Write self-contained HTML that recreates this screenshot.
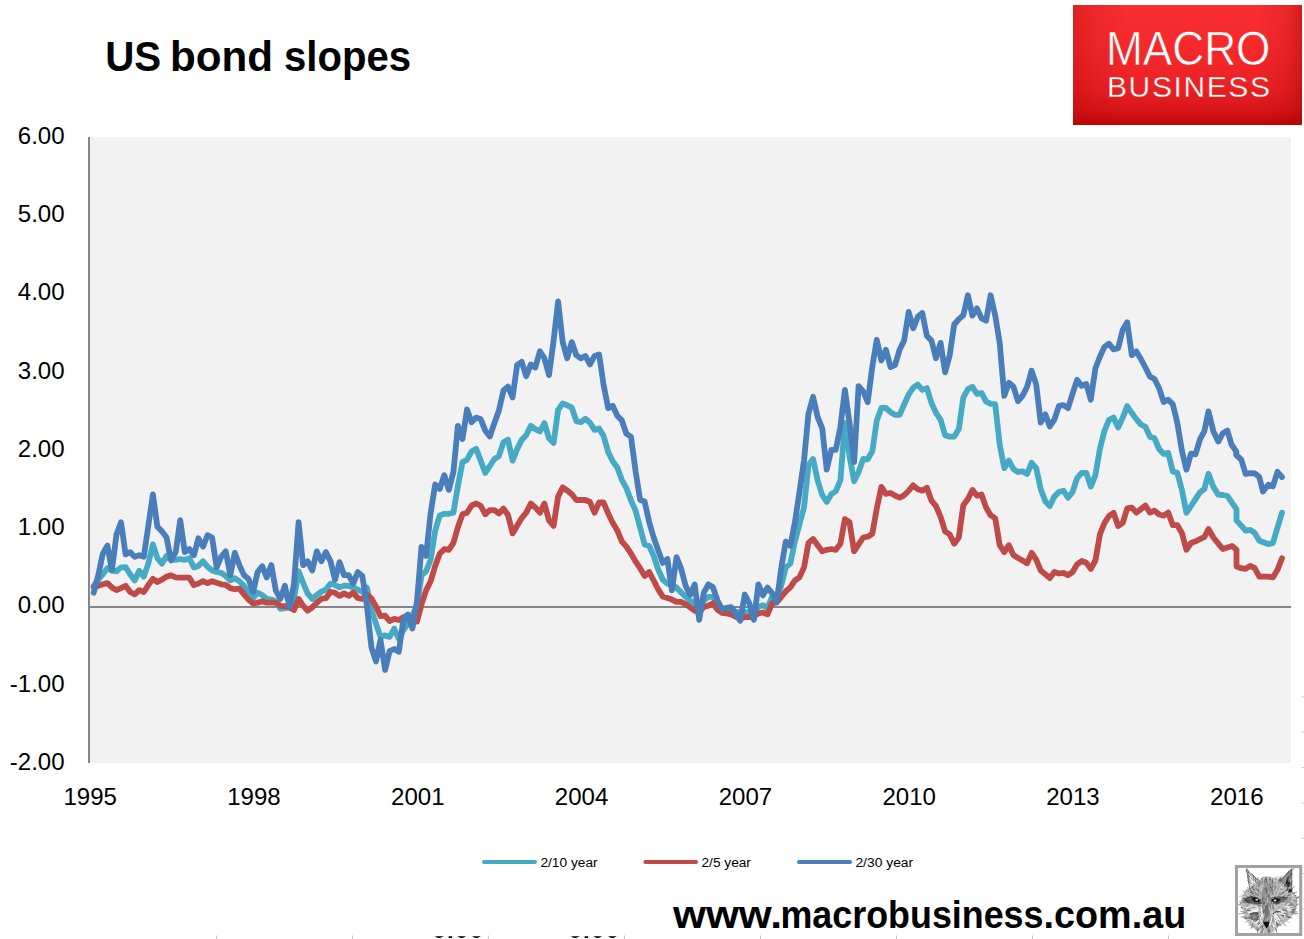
<!DOCTYPE html>
<html lang="en">
<head>
<meta charset="utf-8">
<title>US bond slopes</title>
<style>
html,body{margin:0;padding:0;background:#fff;}
body{width:1304px;height:939px;overflow:hidden;position:relative;font-family:"Liberation Sans",sans-serif;}
svg{position:absolute;left:0;top:0;display:block;}
text{font-family:"Liberation Sans",sans-serif;}
.ax{font-size:24.05px;fill:#000;}
.lg{font-size:12px;fill:#000;}
</style>
</head>
<body>
<svg width="1304" height="939" viewBox="0 0 1304 939">
<defs>
<linearGradient id="lgv" x1="0" y1="0" x2="0" y2="1">
<stop offset="0" stop-color="#f92e31"/><stop offset="0.35" stop-color="#f5292c"/><stop offset="0.7" stop-color="#e92024"/><stop offset="0.88" stop-color="#d81518"/><stop offset="1" stop-color="#bd0606"/>
</linearGradient>
<linearGradient id="lgh" x1="0" y1="0" x2="1" y2="0">
<stop offset="0" stop-color="#a00000" stop-opacity="0.28"/><stop offset="0.1" stop-color="#a00000" stop-opacity="0.12"/><stop offset="0.25" stop-color="#a00000" stop-opacity="0"/><stop offset="0.8" stop-color="#a00000" stop-opacity="0"/><stop offset="0.93" stop-color="#a00000" stop-opacity="0.15"/><stop offset="1" stop-color="#a00000" stop-opacity="0.4"/>
</linearGradient>
<clipPath id="botclip"><rect x="0" y="936.2" width="1304" height="2.8"/></clipPath>
</defs>

<rect x="90" y="137" width="1201" height="626" fill="#f2f2f2"/>
<line x1="89" y1="607.0" x2="1291" y2="607.0" stroke="#868686" stroke-width="2"/>
<line x1="89" y1="137" x2="89" y2="763" stroke="#868686" stroke-width="2"/>
<polyline fill="none" stroke="#46aac5" stroke-width="5.8" stroke-linejoin="round" stroke-linecap="round" points="93.7,585.8 98.3,579.7 102.8,574.3 107.4,568.2 111.9,570.5 116.5,571.3 121.0,567.4 125.6,567.1 130.1,574.3 134.7,580.5 139.2,570.8 143.8,576.6 148.3,563.6 152.9,544.4 157.4,558.2 162.0,563.6 166.5,555.9 171.1,559.0 175.7,559.8 180.2,559.0 184.8,559.8 189.3,558.2 193.9,567.4 198.4,565.9 203.0,561.3 207.5,566.7 212.1,570.5 216.6,572.0 221.2,572.8 225.7,575.9 230.3,580.5 234.8,578.2 239.4,581.2 243.9,585.8 248.5,592.7 253.1,598.1 257.6,592.7 262.2,595.0 266.7,598.9 271.3,599.6 275.8,601.2 280.4,608.8 284.9,608.1 289.5,607.4 294.0,598.2 298.6,571.3 303.1,582.8 307.7,593.6 312.2,598.9 316.8,595.1 321.4,591.7 325.9,589.7 330.5,583.6 335.0,585.1 339.6,587.4 344.1,585.6 348.7,585.9 353.2,587.4 357.8,589.7 362.3,592.0 366.9,587.7 371.4,609.8 376.0,623.8 380.5,636.7 385.1,635.4 389.6,636.9 394.2,628.6 398.8,638.8 403.3,630.2 407.9,623.8 412.4,615.2 417.0,605.5 421.5,575.2 426.1,571.3 430.6,559.8 435.2,530.7 439.7,515.5 444.3,513.8 448.8,513.8 453.4,512.7 457.9,485.9 462.5,462.1 467.0,459.8 471.6,451.4 476.2,448.8 480.7,460.6 485.3,472.9 489.8,466.0 494.4,459.0 498.9,456.0 503.5,442.2 508.0,439.6 512.6,460.6 517.1,449.1 521.7,439.9 526.2,435.3 530.8,425.8 535.3,429.1 539.9,431.4 544.4,423.0 549.0,438.3 553.6,442.9 558.1,410.0 562.7,403.4 567.2,405.4 571.8,407.7 576.3,421.2 580.9,422.2 585.4,418.7 590.0,422.7 594.5,429.9 599.1,428.4 603.6,436.0 608.2,452.1 612.7,461.3 617.3,467.5 621.8,479.8 626.4,488.2 631.0,500.5 635.5,510.4 640.1,527.6 644.6,544.4 649.2,546.0 653.7,556.0 658.3,569.8 662.8,579.7 667.4,583.6 671.9,584.8 676.5,587.6 681.0,592.2 685.6,596.8 690.1,600.5 694.7,603.3 699.2,606.9 703.8,600.5 708.4,596.8 712.9,596.8 717.5,604.2 722.0,609.7 726.6,610.6 731.1,610.6 735.7,611.5 740.2,612.5 744.8,612.5 749.3,612.0 753.9,611.5 758.4,606.9 763.0,605.1 767.5,607.9 772.1,596.8 776.7,596.8 781.2,585.8 785.8,567.4 790.3,563.6 794.9,541.3 799.4,524.5 804.0,507.6 808.5,465.1 813.1,459.0 817.6,480.4 822.2,495.0 826.7,501.9 831.3,494.2 835.8,491.2 840.4,480.4 844.9,422.9 849.5,455.9 854.1,481.2 858.6,472.0 863.2,459.0 867.7,459.3 872.3,451.3 876.8,420.6 881.4,408.0 885.9,408.0 890.5,412.2 895.0,414.8 899.6,414.8 904.1,404.5 908.7,394.5 913.2,387.6 917.8,384.6 922.3,389.9 926.9,388.1 931.5,403.0 936.0,412.9 940.6,419.8 945.1,435.2 949.7,436.7 954.2,436.7 958.8,429.1 963.3,397.6 967.9,389.2 972.4,386.9 977.0,393.8 981.5,393.0 986.1,401.5 990.6,403.8 995.2,404.2 999.7,444.4 1004.3,468.2 1008.9,460.5 1013.4,469.0 1018.0,472.0 1022.5,471.3 1027.1,473.9 1031.6,462.8 1036.2,468.2 1040.7,488.9 1045.3,501.2 1049.8,506.1 1054.4,496.6 1058.9,492.0 1063.5,490.7 1068.0,497.8 1072.6,492.0 1077.1,478.2 1081.7,472.8 1086.3,472.8 1090.8,486.6 1095.4,475.1 1099.9,449.0 1104.5,430.6 1109.0,419.9 1113.6,417.6 1118.1,427.5 1122.7,417.6 1127.2,406.1 1131.8,413.0 1136.3,419.1 1140.9,424.5 1145.4,426.8 1150.0,436.7 1154.5,438.3 1159.1,449.0 1163.7,453.9 1168.2,452.9 1172.8,471.5 1177.3,472.8 1181.9,489.9 1186.4,512.9 1191.0,506.0 1195.5,499.1 1200.1,492.2 1204.3,489.2 1208.5,473.8 1213.4,486.9 1218.3,494.6 1222.8,495.0 1227.4,496.0 1231.9,502.6 1236.5,509.2 1236.5,520.3 1241.0,525.4 1245.6,530.6 1250.2,529.9 1254.7,532.9 1259.3,540.6 1263.8,542.5 1268.3,544.1 1272.9,542.9 1277.5,527.6 1282.0,512.6"/>
<polyline fill="none" stroke="#be4b48" stroke-width="5.8" stroke-linejoin="round" stroke-linecap="round" points="93.7,587.4 98.3,585.8 102.8,584.3 107.4,583.1 111.9,587.4 116.5,590.1 121.0,588.1 125.6,585.8 130.1,592.0 134.7,594.3 139.2,590.1 143.8,592.0 148.3,585.1 152.9,578.9 157.4,582.0 162.0,579.7 166.5,576.6 171.1,575.4 175.7,577.4 180.2,577.7 184.8,577.7 189.3,577.7 193.9,585.1 198.4,583.5 203.0,581.2 207.5,583.1 212.1,581.2 216.6,582.8 221.2,584.3 225.7,584.8 230.3,588.1 234.8,589.2 239.4,588.6 243.9,594.3 248.5,599.6 253.1,603.5 257.6,602.7 262.2,601.2 266.7,602.7 271.3,602.7 275.8,602.7 280.4,605.8 284.9,606.1 289.5,607.4 294.0,610.1 298.6,598.9 303.1,605.8 307.7,610.7 312.2,607.4 316.8,602.8 321.4,598.9 325.9,598.2 330.5,591.7 335.0,592.8 339.6,595.9 344.1,593.4 348.7,595.8 353.2,592.6 357.8,598.0 362.3,599.0 366.9,594.7 371.4,598.5 376.0,606.6 380.5,616.2 385.1,615.7 389.6,621.1 394.2,618.9 398.8,620.0 403.3,617.3 407.9,615.2 412.4,620.5 417.0,621.6 421.5,604.4 426.1,590.4 430.6,581.3 435.2,566.0 439.7,553.7 444.3,549.1 448.8,549.8 453.4,542.9 457.9,527.3 462.5,514.3 467.0,512.7 471.6,505.5 476.2,503.5 480.7,505.8 485.3,514.3 489.8,510.1 494.4,510.1 498.9,513.5 503.5,508.6 508.0,515.0 512.6,533.4 517.1,525.8 521.7,518.1 526.2,512.7 530.8,503.5 535.3,507.4 539.9,512.7 544.4,503.5 549.0,520.4 553.6,525.8 558.1,496.6 562.7,487.4 567.2,490.5 571.8,494.3 576.3,500.0 580.9,500.0 585.4,500.0 590.0,502.0 594.5,512.7 599.1,502.5 603.6,502.5 608.2,513.5 612.7,522.7 617.3,530.4 621.8,541.4 626.4,546.7 631.0,553.7 635.5,561.3 640.1,568.2 644.6,575.9 649.2,572.1 653.7,580.5 658.3,589.7 662.8,596.6 667.4,598.1 671.9,599.6 676.5,601.9 681.0,601.9 685.6,604.2 690.1,607.4 694.7,610.6 699.2,612.5 703.8,606.9 708.4,605.6 712.9,603.3 717.5,609.7 722.0,612.9 726.6,613.4 731.1,614.3 735.7,616.6 740.2,618.9 744.8,617.1 749.3,617.1 753.9,616.1 758.4,613.4 763.0,612.5 767.5,614.3 772.1,603.3 776.7,602.3 781.2,596.8 785.8,591.3 790.3,587.4 794.9,580.5 799.4,577.4 804.0,567.4 808.5,542.9 813.1,539.0 817.6,545.2 822.2,551.3 826.7,549.8 831.3,549.0 835.8,549.8 840.4,543.7 844.9,519.1 849.5,522.2 854.1,551.3 858.6,544.4 863.2,537.5 867.7,536.7 872.3,533.7 876.8,508.4 881.4,486.9 885.9,493.8 890.5,493.0 895.0,495.6 899.6,497.6 904.1,495.3 908.7,490.7 913.2,485.4 917.8,489.2 922.3,490.7 926.9,487.7 931.5,500.7 936.0,506.1 940.6,516.8 945.1,531.4 949.7,534.4 954.2,543.7 958.8,537.5 963.3,505.3 967.9,499.1 972.4,489.9 977.0,495.8 981.5,494.5 986.1,507.6 990.6,515.2 995.2,518.3 999.7,545.2 1004.3,552.1 1008.9,545.2 1013.4,555.1 1018.0,557.9 1022.5,560.5 1027.1,563.3 1031.6,552.8 1036.2,559.7 1040.7,570.5 1045.3,574.3 1049.8,578.1 1054.4,572.0 1058.9,573.5 1063.5,572.8 1068.0,575.1 1072.6,572.0 1077.1,564.3 1081.7,561.0 1086.3,562.8 1090.8,568.9 1095.4,560.5 1099.9,534.4 1104.5,522.9 1109.0,516.0 1113.6,512.9 1118.1,526.0 1122.7,522.9 1127.2,508.3 1131.8,507.6 1136.3,512.6 1140.9,509.1 1145.4,505.6 1150.0,512.6 1154.5,510.6 1159.1,514.5 1163.7,515.7 1168.2,512.6 1172.8,525.2 1177.3,525.2 1181.9,532.9 1186.4,549.8 1191.0,542.9 1195.5,541.3 1200.1,539.0 1204.3,537.2 1208.5,529.0 1213.4,537.5 1218.3,543.6 1222.8,549.0 1227.4,547.5 1232.0,545.9 1236.5,549.8 1236.5,566.6 1241.0,568.2 1245.6,568.9 1250.2,565.9 1254.7,568.2 1259.3,576.6 1263.8,576.6 1268.3,576.6 1272.9,577.4 1277.5,569.7 1282.0,558.2"/>
<polyline fill="none" stroke="#4a7ebb" stroke-width="5.8" stroke-linejoin="round" stroke-linecap="round" points="93.7,592.7 98.3,575.1 102.8,553.6 107.4,545.6 111.9,570.5 116.5,534.4 121.0,522.2 125.6,554.4 130.1,552.1 134.7,556.7 139.2,555.2 143.8,556.7 148.3,526.0 152.9,494.3 157.4,526.8 162.0,531.4 166.5,537.5 171.1,560.5 175.7,552.1 180.2,520.2 184.8,552.1 189.3,549.0 193.9,555.2 198.4,538.3 203.0,546.7 207.5,535.2 212.1,537.5 216.6,567.4 221.2,556.7 225.7,551.3 230.3,575.1 234.8,552.9 239.4,565.1 243.9,575.1 248.5,578.9 253.1,592.0 257.6,572.0 262.2,566.2 266.7,577.4 271.3,565.1 275.8,590.4 280.4,598.9 284.9,585.8 289.5,607.4 294.0,583.6 298.6,522.2 303.1,565.2 307.7,561.3 312.2,570.6 316.8,551.4 321.4,561.3 325.9,552.1 330.5,561.3 335.0,579.8 339.6,562.1 344.1,575.2 348.7,575.2 353.2,583.6 357.8,572.1 362.3,575.9 366.9,605.5 371.4,647.4 376.0,661.4 380.5,639.9 385.1,670.0 389.6,651.2 394.2,649.0 398.8,651.7 403.3,620.5 407.9,614.6 412.4,628.6 417.0,601.2 421.5,546.8 426.1,556.0 430.6,513.2 435.2,484.5 439.7,489.0 444.3,475.2 448.8,489.9 453.4,472.1 457.9,425.8 462.5,439.1 467.0,409.5 471.6,422.2 476.2,417.6 480.7,419.2 485.3,430.7 489.8,436.5 494.4,423.0 498.9,410.7 503.5,390.5 508.0,386.6 512.6,397.4 517.1,365.2 521.7,361.8 526.2,376.2 530.8,364.4 535.3,367.5 539.9,351.3 544.4,358.3 549.0,375.1 553.6,340.6 558.1,301.5 562.7,342.1 567.2,358.3 571.8,342.1 576.3,355.2 580.9,358.3 585.4,356.0 590.0,364.4 594.5,356.0 599.1,354.4 603.6,385.1 608.2,408.1 612.7,405.8 617.3,415.8 621.8,420.4 626.4,433.7 631.0,436.8 635.5,470.6 640.1,499.7 644.6,501.5 649.2,522.2 653.7,537.5 658.3,550.6 662.8,562.9 667.4,559.0 671.9,590.4 676.5,557.2 681.0,568.3 685.6,585.8 690.1,595.0 694.7,584.4 699.2,619.8 703.8,592.7 708.4,584.4 712.9,587.1 717.5,600.5 722.0,609.2 726.6,607.9 731.1,607.1 735.7,613.4 740.2,620.7 744.8,594.5 749.3,603.3 753.9,619.8 758.4,584.4 763.0,595.4 767.5,587.6 772.1,593.1 776.7,601.9 781.2,568.3 785.8,541.6 790.3,546.0 794.9,522.2 799.4,492.5 804.0,460.6 808.5,413.4 813.1,396.8 817.6,416.8 822.2,428.3 826.7,469.7 831.3,449.8 835.8,449.8 840.4,426.7 844.9,389.9 849.5,422.9 854.1,462.0 858.6,386.1 863.2,391.5 867.7,402.2 872.3,366.7 876.8,339.8 881.4,360.5 885.9,349.8 890.5,367.1 895.0,365.1 899.6,349.8 904.1,340.6 908.7,311.9 913.2,328.3 917.8,316.8 922.3,313.0 926.9,336.0 931.5,340.6 936.0,358.2 940.6,342.9 945.1,372.3 949.7,355.2 954.2,324.5 958.8,319.1 963.3,315.3 967.9,295.3 972.4,315.6 977.0,308.4 981.5,318.3 986.1,320.6 990.6,295.3 995.2,315.3 999.7,342.9 1004.3,395.9 1008.9,382.8 1013.4,386.7 1018.0,401.2 1022.5,395.9 1027.1,386.7 1031.6,370.6 1036.2,384.4 1040.7,422.7 1045.3,414.3 1049.8,426.5 1054.4,419.6 1058.9,405.8 1063.5,405.1 1068.0,408.1 1072.6,393.6 1077.1,379.8 1081.7,385.9 1086.3,384.0 1090.8,399.7 1095.4,368.3 1099.9,356.7 1104.5,346.8 1109.0,343.7 1113.6,349.4 1118.1,348.3 1122.7,329.9 1127.2,322.2 1131.8,355.2 1136.3,351.4 1140.9,359.0 1145.4,367.5 1150.0,376.7 1154.5,379.0 1159.1,388.2 1163.7,402.0 1168.2,399.7 1172.8,404.3 1177.3,422.7 1181.9,450.6 1186.4,469.7 1191.0,453.6 1195.5,454.4 1200.1,439.0 1204.3,431.4 1208.5,411.4 1213.4,431.4 1218.3,441.5 1222.9,433.2 1227.4,430.6 1231.4,444.3 1236.4,451.8 1236.2,454.9 1241.4,459.9 1245.6,474.0 1250.2,473.2 1254.7,473.3 1259.3,477.1 1263.0,491.5 1268.3,484.8 1272.9,486.3 1277.5,471.8 1282.0,477.1"/>
<text class="ax" x="64.6" y="143.9" text-anchor="end">6.00</text>
<text class="ax" x="64.6" y="222.2" text-anchor="end">5.00</text>
<text class="ax" x="64.6" y="300.4" text-anchor="end">4.00</text>
<text class="ax" x="64.6" y="378.6" text-anchor="end">3.00</text>
<text class="ax" x="64.6" y="456.9" text-anchor="end">2.00</text>
<text class="ax" x="64.6" y="535.1" text-anchor="end">1.00</text>
<text class="ax" x="64.6" y="613.4" text-anchor="end">0.00</text>
<text class="ax" x="64.6" y="691.6" text-anchor="end">-1.00</text>
<text class="ax" x="64.6" y="769.9" text-anchor="end">-2.00</text>
<text class="ax" x="90.2" y="804.8" text-anchor="middle">1995</text>
<text class="ax" x="254.0" y="804.8" text-anchor="middle">1998</text>
<text class="ax" x="417.8" y="804.8" text-anchor="middle">2001</text>
<text class="ax" x="581.6" y="804.8" text-anchor="middle">2004</text>
<text class="ax" x="745.4" y="804.8" text-anchor="middle">2007</text>
<text class="ax" x="909.2" y="804.8" text-anchor="middle">2010</text>
<text class="ax" x="1073.0" y="804.8" text-anchor="middle">2013</text>
<text class="ax" x="1236.8" y="804.8" text-anchor="middle">2016</text>
<text y="71" font-size="42" font-weight="bold"><tspan x="105.2" textLength="56" lengthAdjust="spacingAndGlyphs">US</tspan> <tspan x="170" textLength="103" lengthAdjust="spacingAndGlyphs">bond</tspan> <tspan x="284" textLength="127" lengthAdjust="spacingAndGlyphs">slopes</tspan></text>
<line x1="484" y1="861.9" x2="535" y2="861.9" stroke="#46aac5" stroke-width="4" stroke-linecap="round"/>
<text class="lg" x="540.4" y="866.7" textLength="57.2" lengthAdjust="spacingAndGlyphs">2/10 year</text>
<line x1="645.3" y1="861.9" x2="696" y2="861.9" stroke="#be4b48" stroke-width="4" stroke-linecap="round"/>
<text class="lg" x="701.5" y="866.7" textLength="49.4" lengthAdjust="spacingAndGlyphs">2/5 year</text>
<line x1="799" y1="861.9" x2="850" y2="861.9" stroke="#4a7ebb" stroke-width="4" stroke-linecap="round"/>
<text class="lg" x="855.4" y="866.7" textLength="57.8" lengthAdjust="spacingAndGlyphs">2/30 year</text>
<g id="logo">
<rect x="1073" y="5" width="229" height="120" fill="url(#lgv)"/>
<rect x="1073" y="5" width="229" height="120" fill="url(#lgh)"/>
<text x="1106" y="64.7" font-size="47.2" fill="#fff" stroke="#ef2327" stroke-width="0.6" textLength="164.5" lengthAdjust="spacingAndGlyphs">MACRO</text>
<text x="1107" y="96.8" font-size="30" fill="#fff" stroke="#e41d20" stroke-width="0.35" textLength="163" lengthAdjust="spacing">BUSINESS</text>
</g>
<text y="927.5" font-size="39.5" font-weight="bold"><tspan x="673" textLength="109" lengthAdjust="spacingAndGlyphs">www.</tspan><tspan x="780.5" textLength="263" lengthAdjust="spacingAndGlyphs">macrobusiness</tspan><tspan x="1043.6" textLength="142.6" lengthAdjust="spacingAndGlyphs">.com.au</tspan></text>
<line x1="216.7" y1="935.5" x2="216.7" y2="939" stroke="#c4c4c4" stroke-width="1"/>
<line x1="352.6" y1="935.5" x2="352.6" y2="939" stroke="#c4c4c4" stroke-width="1"/>
<line x1="488.4" y1="935.5" x2="488.4" y2="939" stroke="#c4c4c4" stroke-width="1"/>
<line x1="624.5" y1="935.5" x2="624.5" y2="939" stroke="#c4c4c4" stroke-width="1"/>
<line x1="760.5" y1="935.5" x2="760.5" y2="939" stroke="#c4c4c4" stroke-width="1"/>
<line x1="896.5" y1="935.5" x2="896.5" y2="939" stroke="#c4c4c4" stroke-width="1"/>
<line x1="1032.5" y1="935.5" x2="1032.5" y2="939" stroke="#c4c4c4" stroke-width="1"/>
<line x1="1168.5" y1="935.5" x2="1168.5" y2="939" stroke="#c4c4c4" stroke-width="1"/>
<line x1="1301.5" y1="696.8" x2="1304" y2="696.8" stroke="#cfcfcf" stroke-width="1"/>
<line x1="1301.5" y1="732" x2="1304" y2="732" stroke="#cfcfcf" stroke-width="1"/>
<line x1="1301.5" y1="767.5" x2="1304" y2="767.5" stroke="#cfcfcf" stroke-width="1"/>
<line x1="1301.5" y1="803" x2="1304" y2="803" stroke="#cfcfcf" stroke-width="1"/>
<line x1="1301.5" y1="838.3" x2="1304" y2="838.3" stroke="#cfcfcf" stroke-width="1"/>
<line x1="1301.5" y1="873.6" x2="1304" y2="873.6" stroke="#cfcfcf" stroke-width="1"/>
<line x1="1301.5" y1="909" x2="1304" y2="909" stroke="#cfcfcf" stroke-width="1"/>
<g clip-path="url(#botclip)"><text x="432.4" y="938.3" font-size="24" font-weight="bold" textLength="50.6" lengthAdjust="spacing">0.00</text><text x="568.4" y="938.3" font-size="24" font-weight="bold" textLength="50.6" lengthAdjust="spacing">0.00</text></g>
<clipPath id="foxclip"><rect x="1238" y="868" width="61.2" height="65"/></clipPath>
<rect x="1236.5" y="866.5" width="64.2" height="68" fill="#fff"/>
<g id="fox" clip-path="url(#foxclip)">
<polygon points="1249.3,888.6 1244.3,891.5 1241.8,897.8 1239.7,904.6 1242.6,910.5 1243.9,917.2 1249.3,924.8 1255.2,929.4 1262.0,932.5 1267.0,933.3 1272.1,932.5 1277.1,927.7 1284.7,922.7 1291.4,917.6 1295.6,910.5 1297.3,903.7 1296.4,897.0 1293.9,892.0 1291.4,892.0 1283.8,881.9 1280.5,879.8 1275.4,878.1 1268.7,876.4 1262.0,876.8 1259.0,881.4" fill="#b8b8b8"/>
<polygon points="1246.4,869.1 1259.4,881.4 1249.8,889.0" fill="#c9c9c9" stroke="#4a4a4a" stroke-width="0.7"/>
<polygon points="1291.8,868.8 1280.5,879.8 1291.8,892.4" fill="#8e8e8e" stroke="#3c3c3c" stroke-width="0.7"/>
<polygon points="1288.0,876.8 1285.5,881.9 1288.0,887.8 1290.6,885.2 1289.3,880.2" fill="#1e1e1e"/>
<polygon points="1288.0,887.8 1285.5,890.3 1290.6,892.8 1292.2,890.3" fill="#2a2a2a"/>
<polygon points="1248.9,873.5 1255.2,881.0 1251.0,886.1" fill="#ececec"/>
<ellipse cx="1252.3" cy="909.2" rx="6.2" ry="4.6" fill="#f2f2f2"/>
<ellipse cx="1279.6" cy="914.7" rx="5.6" ry="5.2" fill="#ececec"/>
<ellipse cx="1288.0" cy="907.1" rx="5" ry="4" fill="#e6e6e6"/>
<polygon points="1251.0,920.6 1257.8,927.3 1263.6,923.9 1260.3,918.0" fill="#e9e9e9"/>
<polygon points="1270.4,918.9 1273.7,927.3 1280.5,922.2 1277.1,915.5" fill="#eaeaea"/>
<polygon points="1263.6,879.3 1272.1,878.9 1273.7,895.3 1270.4,910.5 1269.5,921.4 1263.6,921.4 1263.2,910.5 1262.0,895.3" fill="#969696"/>
<polygon points="1242.6,897.0 1251.9,896.2 1261.1,899.5 1262.0,903.7 1255.2,904.6 1246.0,902.1" fill="#5c5c5c"/>
<polygon points="1270.4,899.5 1277.1,897.8 1288.9,897.0 1283.8,902.1 1277.1,904.6 1272.1,903.7" fill="#666"/>
<polygon points="1250.2,913.8 1257.8,912.1 1259.4,918.9 1255.2,922.2 1251.0,918.9" fill="#707070"/>
<path d="M1262.8 898.1L1262.3 902.7M1280.5 924.1L1281.0 926.0M1261.2 925.3L1260.4 927.8M1248.0 909.1L1244.7 909.7M1275.9 879.7L1278.7 876.8M1247.4 910.9L1245.9 912.1M1266.8 878.6L1266.8 882.1M1288.9 891.2L1291.8 890.7M1285.5 915.2L1289.7 917.9M1275.7 880.1L1276.0 876.6M1291.8 888.9L1295.2 886.2M1258.4 886.7L1258.3 884.3M1248.1 901.7L1244.6 899.1M1260.5 903.5L1258.5 902.9M1255.9 901.8L1253.4 901.7M1250.3 904.0L1247.1 902.0M1286.0 891.7L1287.6 888.8M1256.4 895.0L1252.4 893.6M1289.5 884.9L1291.8 883.8M1247.3 903.1L1242.8 901.8M1254.3 922.5L1251.0 925.5" fill="none" stroke="rgb(15,15,15)" stroke-width="0.40" stroke-opacity="0.8"/>
<path d="M1275.2 889.9L1275.3 885.3M1275.1 883.7L1275.2 881.6M1256.3 901.6L1253.5 901.3M1247.9 890.7L1245.5 890.0M1269.5 929.7L1268.9 933.4M1254.7 896.6L1251.5 893.6M1260.0 927.7L1256.8 930.9M1259.0 923.8L1256.5 926.0M1288.2 893.0L1289.9 890.7M1276.6 914.2L1279.3 916.8M1251.3 896.9L1250.3 895.5M1263.5 920.3L1263.0 924.2M1252.4 879.6L1251.4 877.5M1292.7 893.6L1297.0 892.0M1277.0 922.8L1277.6 927.4M1250.9 883.5L1247.4 880.0M1253.2 901.2L1250.4 898.3M1262.2 931.1L1261.7 935.0M1261.7 914.6L1257.8 917.1M1283.6 887.0L1284.8 884.2M1282.9 909.7L1286.8 910.2" fill="none" stroke="rgb(15,15,15)" stroke-width="0.50" stroke-opacity="0.8"/>
<path d="M1264.2 922.8L1264.6 925.2M1257.8 919.3L1255.3 921.1M1242.6 907.8L1240.9 907.1M1260.2 922.5L1258.0 924.7M1244.1 916.8L1240.7 917.1M1290.0 875.1L1291.8 873.8M1289.1 898.8L1291.7 896.8M1279.0 880.9L1280.1 877.2M1251.1 917.8L1248.6 918.2M1258.0 927.7L1257.7 932.7M1276.5 921.7L1277.2 926.3M1275.8 928.7L1276.7 932.4M1248.6 873.6L1248.1 870.5M1287.9 916.3L1290.9 917.5M1250.0 910.1L1247.1 910.2M1249.3 903.1L1246.1 901.2M1264.5 902.4L1264.9 906.6M1279.7 900.8L1283.2 898.8M1289.3 900.3L1291.8 898.7M1265.9 887.3L1265.7 889.4M1277.1 912.3L1279.6 913.5M1281.0 913.7L1283.7 917.2M1260.4 906.1L1258.7 905.1M1251.1 918.2L1248.5 918.8M1281.8 915.8L1284.1 916.1M1262.9 930.2L1260.3 933.6M1285.0 910.1L1287.2 910.9M1258.2 895.6L1255.2 893.0" fill="none" stroke="rgb(15,15,15)" stroke-width="0.65" stroke-opacity="0.8"/>
<path d="M1262.4 895.1L1262.3 897.0M1246.4 897.9L1243.9 897.9M1266.3 914.8L1266.2 917.5M1293.1 909.5L1297.0 908.1M1268.9 882.3L1269.2 884.8M1262.8 926.0L1262.1 928.2M1276.1 903.5L1279.9 901.5M1281.4 889.7L1282.2 888.2M1287.5 895.7L1290.5 893.4M1285.2 898.9L1287.5 896.7M1262.3 907.2L1262.5 908.9M1276.6 922.7L1277.6 925.1M1250.6 915.4L1247.2 919.1M1262.7 905.1L1262.7 908.2M1247.9 912.9L1243.3 913.3M1268.3 925.4L1268.8 928.6M1268.4 902.5L1268.4 904.2M1255.3 899.4L1251.9 896.8M1263.5 877.1L1263.3 879.2M1257.1 908.3L1254.0 907.1M1280.1 919.5L1282.2 920.7M1289.5 908.6L1291.9 907.6M1279.8 879.8L1281.5 875.2M1270.5 910.3L1270.8 914.4M1273.0 907.1L1272.7 911.9M1265.9 898.1L1266.1 900.3M1282.3 886.9L1283.1 884.5M1275.2 893.7L1275.8 891.4M1253.5 923.3L1252.3 926.9M1286.9 916.1L1290.7 917.7M1241.5 903.3L1239.6 903.3M1280.5 897.9L1284.5 895.9M1293.6 906.5L1297.7 905.1M1258.2 882.6L1256.2 878.8" fill="none" stroke="rgb(30,30,30)" stroke-width="0.40" stroke-opacity="0.8"/>
<path d="M1255.6 919.3L1253.0 921.8M1254.2 878.1L1252.2 874.4M1265.7 878.3L1266.1 881.1M1263.8 909.4L1263.5 913.9M1249.9 877.3L1248.5 875.2M1290.6 891.6L1292.7 889.0M1285.8 882.9L1289.5 880.8M1260.3 919.4L1258.1 923.5M1260.2 921.3L1258.7 924.1M1280.5 897.5L1282.8 897.1M1278.0 882.9L1279.8 879.9M1274.3 899.1L1275.0 895.8M1283.6 913.2L1287.9 914.4M1249.0 880.7L1247.4 876.8M1269.9 912.6L1270.2 915.4M1265.5 905.2L1266.1 909.6M1261.8 911.5L1259.7 912.8M1266.0 905.6L1266.3 908.1" fill="none" stroke="rgb(30,30,30)" stroke-width="0.50" stroke-opacity="0.8"/>
<path d="M1249.0 891.4L1247.6 888.6M1270.4 878.7L1270.8 882.2M1253.9 876.3L1251.5 873.8M1266.6 921.3L1267.4 923.5M1240.1 905.0L1235.5 903.9M1291.9 911.5L1293.5 912.3M1256.0 883.2L1255.1 879.9M1284.4 901.0L1287.9 901.5M1295.8 899.2L1299.8 896.4M1290.4 906.6L1292.8 907.5M1293.7 912.6L1298.4 914.0M1268.0 920.0L1268.5 922.9M1270.5 885.5L1270.5 888.0M1290.1 904.9L1294.3 905.4M1266.3 890.2L1266.8 894.3M1268.6 892.8L1269.2 897.3M1280.7 914.8L1282.8 916.4M1254.7 879.2L1251.4 876.6M1266.2 877.2L1266.5 880.3M1253.2 893.0L1250.4 890.2" fill="none" stroke="rgb(30,30,30)" stroke-width="0.65" stroke-opacity="0.8"/>
<path d="M1262.9 930.6L1261.9 932.6M1269.3 925.8L1268.6 929.4M1281.7 901.3L1284.8 899.1M1274.6 890.7L1276.6 887.3M1287.5 895.6L1290.7 895.1M1255.0 918.1L1251.5 919.5M1291.8 899.6L1296.1 900.0M1271.8 878.6L1272.0 881.7M1253.3 898.0L1251.5 897.2M1290.5 912.2L1292.5 911.7M1249.1 891.7L1245.5 890.7M1250.2 910.6L1245.4 909.9M1267.6 893.0L1267.8 895.9M1264.8 878.3L1264.6 882.7M1292.6 913.7L1294.4 913.5M1282.4 913.2L1285.3 913.3M1273.0 884.5L1273.4 888.6M1265.0 916.7L1264.5 921.2M1276.2 893.0L1278.8 888.9M1283.3 907.0L1286.1 908.3M1282.5 892.5L1286.0 890.1" fill="none" stroke="rgb(45,45,45)" stroke-width="0.40" stroke-opacity="0.8"/>
<path d="M1254.5 905.5L1250.7 903.1M1257.4 883.2L1255.9 881.4M1288.0 879.5L1288.7 875.2M1250.6 910.8L1246.2 910.8M1291.2 905.2L1293.6 904.4M1243.2 913.3L1238.2 914.0M1287.4 874.4L1288.8 870.5M1272.6 886.2L1272.8 891.1M1262.1 897.7L1262.4 900.2M1271.2 886.8L1271.3 890.7M1282.5 915.4L1284.3 915.5M1262.3 880.3L1262.2 884.6M1290.8 908.7L1294.9 909.5M1290.1 904.9L1294.5 905.6M1269.7 877.1L1270.0 880.4M1278.1 907.3L1280.3 907.7M1260.8 903.1L1258.3 902.8M1249.6 900.4L1245.7 901.0" fill="none" stroke="rgb(45,45,45)" stroke-width="0.50" stroke-opacity="0.8"/>
<path d="M1247.7 917.8L1244.5 918.6M1277.9 888.7L1279.5 886.2M1251.0 908.6L1247.2 909.0M1266.1 909.5L1265.8 914.3M1284.6 904.8L1287.4 903.1M1282.4 881.4L1282.7 877.1M1246.6 900.4L1244.1 900.5M1292.8 900.1L1295.4 900.4M1295.2 901.9L1298.1 900.5M1285.8 900.9L1287.7 899.1M1258.0 880.6L1258.2 877.1M1261.7 923.1L1260.4 924.8M1272.3 879.2L1272.5 883.7M1273.3 892.1L1273.2 894.3M1283.0 922.4L1285.7 926.2M1281.8 910.1L1284.6 910.0M1279.9 882.8L1281.0 878.0" fill="none" stroke="rgb(45,45,45)" stroke-width="0.65" stroke-opacity="0.8"/>
<path d="M1255.6 896.1L1251.8 893.6M1271.1 901.8L1271.0 906.1M1294.2 897.3L1298.7 897.4M1272.0 920.0L1274.3 922.8M1272.7 921.9L1275.6 924.7M1282.6 885.6L1283.1 883.0M1268.3 894.0L1268.1 898.3M1244.9 901.5L1242.1 900.2M1290.9 884.3L1292.1 880.8M1263.1 924.1L1261.8 926.0M1262.8 902.8L1263.1 905.3M1267.5 907.6L1267.7 910.5M1277.9 885.4L1277.9 883.3M1291.4 903.0L1295.0 902.3M1250.0 924.3L1248.5 926.2M1254.4 882.3L1251.5 878.3M1250.1 888.9L1246.8 887.4M1279.1 898.6L1279.9 896.9M1255.1 923.3L1254.2 926.4M1288.2 876.7L1289.3 874.0M1256.1 909.0L1252.1 908.7M1260.9 904.9L1256.5 904.2M1270.5 923.6L1269.9 925.5M1255.7 888.9L1253.7 885.2M1256.4 926.9L1256.1 930.5M1274.3 920.0L1274.8 921.9M1294.6 895.9L1296.4 895.0M1268.7 931.1L1268.8 936.2M1252.5 910.0L1249.8 911.0M1259.4 881.6L1258.3 879.1M1272.6 917.5L1272.3 921.4M1296.7 904.6L1298.7 904.2M1286.5 912.7L1288.2 912.8" fill="none" stroke="rgb(60,60,60)" stroke-width="0.40" stroke-opacity="0.8"/>
<path d="M1272.9 905.5L1273.3 909.1M1260.7 883.5L1259.5 881.6M1244.2 912.0L1240.0 911.2M1288.5 905.4L1292.2 905.6M1248.8 882.7L1247.9 879.5M1268.9 910.0L1269.1 912.6M1244.0 896.5L1241.5 893.9M1256.5 906.0L1252.4 906.1M1253.8 885.1L1250.1 882.3M1263.8 925.2L1261.9 927.4M1269.9 929.2L1271.5 932.1M1281.8 908.3L1284.3 908.1M1277.5 919.8L1280.2 923.1M1290.4 877.6L1291.1 873.6M1253.7 894.3L1250.2 891.9M1287.6 890.6L1291.3 889.8M1263.4 901.7L1263.1 903.9M1276.4 903.2L1278.8 902.9M1259.9 885.1L1258.3 883.0M1260.9 883.3L1259.5 879.7M1277.0 914.5L1280.9 915.7M1253.2 893.4L1249.6 892.4M1271.6 921.3L1274.4 925.1M1257.8 891.0L1256.4 888.9M1267.3 911.7L1267.5 916.7M1296.3 897.2L1298.8 896.6M1262.7 878.0L1263.0 880.4M1266.8 879.9L1266.8 882.8M1249.5 907.4L1246.1 905.7M1282.6 902.7L1284.8 901.9M1272.2 899.2L1272.0 900.8M1252.8 926.6L1250.4 928.0M1279.7 914.0L1282.7 916.9M1271.9 901.1L1272.0 905.9M1296.4 904.4L1298.5 904.0" fill="none" stroke="rgb(60,60,60)" stroke-width="0.50" stroke-opacity="0.8"/>
<path d="M1272.6 904.0L1272.6 905.9M1289.0 902.8L1291.8 903.4M1258.4 891.2L1255.5 887.3M1292.5 909.4L1294.5 910.3M1252.0 926.2L1251.5 928.7M1267.0 903.6L1267.7 908.5M1284.8 891.7L1287.8 889.9M1273.0 917.8L1273.4 921.9M1244.8 900.6L1242.9 899.5M1287.7 900.2L1289.8 899.7M1255.6 881.0L1255.2 877.5M1249.6 878.1L1248.1 874.6M1287.8 905.5L1289.9 904.6M1256.9 915.1L1253.3 918.1M1255.0 914.9L1253.0 917.1M1254.0 890.0L1251.3 885.8M1291.7 870.2L1294.5 868.5M1272.8 915.8L1273.2 919.7M1261.0 931.6L1258.7 935.4" fill="none" stroke="rgb(60,60,60)" stroke-width="0.65" stroke-opacity="0.8"/>
<path d="M1246.0 900.9L1243.6 898.6M1262.2 925.6L1262.8 930.3M1285.3 884.3L1288.7 882.5M1257.6 922.4L1256.8 924.7M1275.9 893.3L1277.0 891.4M1263.0 910.5L1263.2 913.4M1268.0 908.9L1268.5 912.5M1284.0 888.2L1286.3 885.8M1291.9 912.5L1295.2 912.3M1272.3 892.7L1272.5 894.6M1265.1 912.4L1264.8 914.6M1284.8 910.3L1287.6 911.2M1268.0 912.0L1268.0 916.4M1281.7 917.0L1284.0 917.7M1266.9 919.0L1265.4 923.4M1278.9 917.5L1283.0 919.2M1295.1 900.5L1298.7 897.3M1252.3 924.3L1251.4 926.1M1274.9 902.2L1279.0 900.0" fill="none" stroke="rgb(80,80,80)" stroke-width="0.40" stroke-opacity="0.8"/>
<path d="M1285.1 886.8L1286.1 883.8M1267.1 888.0L1267.1 893.0M1294.2 895.9L1296.3 895.3M1246.7 899.8L1244.1 899.4M1276.7 913.2L1280.0 916.6M1283.1 896.6L1285.8 895.3M1245.2 894.1L1242.9 890.5M1267.8 909.6L1267.5 911.8M1274.1 918.3L1276.2 920.1M1247.4 871.0L1246.3 866.7M1272.9 931.0L1273.7 934.7M1278.7 923.4L1279.9 925.6M1253.5 892.2L1251.0 890.4M1258.7 895.8L1257.9 891.7M1276.3 904.4L1279.4 902.4M1251.8 892.2L1250.1 888.8M1257.4 903.0L1253.4 900.5M1246.4 898.4L1242.9 898.7M1260.7 916.0L1259.3 920.2" fill="none" stroke="rgb(80,80,80)" stroke-width="0.50" stroke-opacity="0.8"/>
<path d="M1253.9 880.9L1253.5 879.0M1254.1 888.2L1251.2 885.9M1263.6 903.2L1263.7 905.1M1259.2 886.9L1259.4 883.1M1247.1 901.4L1242.4 902.5M1278.2 917.3L1281.1 918.7M1278.5 923.0L1279.3 926.0M1293.1 911.7L1297.5 911.9M1247.8 918.1L1243.8 918.4M1259.1 892.1L1257.8 888.6M1287.3 880.3L1289.4 875.8M1258.3 915.6L1256.8 917.3M1262.8 927.9L1263.3 930.6M1250.9 888.9L1249.5 887.7M1280.1 894.7L1284.0 892.4M1294.9 901.3L1297.0 900.8M1275.7 921.8L1278.9 924.1M1282.9 885.9L1286.0 883.1M1255.0 890.3L1252.1 888.9M1292.1 910.4L1295.5 909.9M1251.1 875.2L1249.2 873.7M1289.5 876.0L1290.7 872.6M1271.8 925.1L1272.4 928.0M1263.7 902.6L1263.9 905.2M1255.5 892.7L1254.5 889.4M1240.9 901.9L1239.0 901.7M1267.3 922.5L1268.0 924.4M1262.1 892.2L1261.8 894.5M1247.0 921.5L1245.2 922.4M1261.3 879.7L1261.4 878.1M1291.6 912.1L1295.7 914.7M1264.9 907.6L1265.1 912.2M1253.9 907.6L1251.0 906.9" fill="none" stroke="rgb(80,80,80)" stroke-width="0.65" stroke-opacity="0.8"/>
<path d="M1286.7 878.7L1290.7 875.7M1278.7 920.0L1279.3 922.1M1251.7 906.9L1248.4 908.1M1274.8 910.2L1276.8 910.6M1265.8 888.8L1265.9 891.5M1245.3 900.0L1241.6 897.4M1276.8 915.2L1278.3 916.2M1252.1 915.6L1249.7 915.7M1289.2 872.7L1291.8 868.6M1283.0 890.4L1284.8 886.3M1264.3 887.6L1264.3 890.7M1257.0 889.2L1255.9 885.9M1258.2 925.4L1258.1 928.8M1277.8 889.5L1279.5 885.8M1271.0 907.4L1270.8 911.1M1252.9 897.1L1251.2 896.8M1281.2 894.7L1284.0 892.3M1289.3 877.6L1292.7 874.0M1257.8 903.8L1254.3 903.0M1282.1 897.1L1284.0 896.2M1249.4 891.9L1247.2 890.2M1287.7 881.2L1289.7 876.7M1275.9 901.7L1277.6 900.3M1257.5 888.4L1255.7 885.2M1267.2 913.2L1267.1 915.4" fill="none" stroke="rgb(100,100,100)" stroke-width="0.40" stroke-opacity="0.8"/>
<path d="M1270.6 919.6L1271.7 924.2M1278.6 896.3L1279.9 892.4M1277.5 889.2L1278.2 886.3M1286.7 921.0L1290.1 922.8M1250.6 881.0L1249.5 878.3M1293.8 894.2L1294.9 892.6M1269.3 897.9L1269.0 900.6M1260.6 895.2L1259.8 891.2M1280.2 883.6L1281.4 880.3M1267.8 920.6L1268.3 922.8M1290.0 877.8L1290.7 876.2M1250.9 914.7L1249.0 915.6M1293.5 907.0L1295.6 906.1M1242.6 896.1L1238.8 896.2M1285.1 885.0L1288.1 883.6M1280.1 890.3L1282.6 887.7M1254.5 907.5L1251.1 908.3M1283.6 905.8L1287.0 903.8M1261.3 899.3L1258.9 896.6M1278.3 894.8L1281.5 891.9M1265.3 915.0L1265.4 917.9M1286.0 903.7L1289.8 901.3" fill="none" stroke="rgb(100,100,100)" stroke-width="0.50" stroke-opacity="0.8"/>
<path d="M1287.4 917.2L1290.8 917.9M1276.0 927.6L1276.1 930.8M1263.0 896.5L1263.4 899.4M1252.7 896.7L1249.7 895.2M1247.6 872.6L1245.1 870.9M1284.7 908.6L1287.5 908.3M1249.0 920.3L1247.1 920.6M1289.7 917.0L1292.5 917.9M1287.5 885.7L1291.4 882.5M1270.0 903.8L1270.2 906.0M1252.6 876.1L1251.4 874.7M1268.2 920.9L1269.3 924.0M1270.5 918.1L1270.4 921.0M1285.4 906.0L1287.3 905.5M1269.9 898.1L1270.3 902.2M1265.3 905.7L1265.5 907.7M1246.0 916.4L1243.5 917.9M1253.7 925.8L1251.6 927.6M1242.8 901.8L1240.6 901.1M1248.7 898.2L1245.1 895.2M1290.3 872.5L1291.6 869.7M1287.1 896.4L1290.0 895.1M1251.3 906.3L1247.2 904.3M1265.2 876.9L1265.3 880.2M1274.9 911.4L1279.2 912.3" fill="none" stroke="rgb(100,100,100)" stroke-width="0.65" stroke-opacity="0.8"/>
<path d="M1272.8 914.6L1273.4 918.6M1276.4 885.3L1277.9 882.6M1282.1 882.4L1282.3 877.7M1296.7 900.5L1300.4 897.5M1276.1 880.5L1278.1 876.4M1280.8 900.8L1285.5 900.3M1271.1 884.0L1271.0 887.2M1258.9 881.5L1257.5 876.7M1255.1 910.1L1251.0 910.5M1241.7 906.0L1237.3 905.2M1291.0 877.1L1292.3 875.3M1264.1 904.2L1264.5 908.4M1248.2 918.3L1245.2 920.1M1270.4 909.1L1270.4 914.0M1288.5 915.7L1292.5 915.4M1242.6 902.2L1240.3 901.8" fill="none" stroke="rgb(235,235,235)" stroke-width="0.40" stroke-opacity="0.8"/>
<path d="M1270.8 892.9L1270.8 894.7M1291.6 897.4L1293.5 896.9M1253.0 907.2L1248.8 907.1M1253.3 886.0L1251.0 882.0M1287.9 876.2L1290.2 873.9M1271.6 910.6L1272.0 914.6M1244.9 910.6L1240.7 909.6M1251.2 879.6L1250.9 877.3M1245.0 918.3L1243.0 920.2M1253.5 895.2L1252.2 893.4M1270.0 922.7L1269.6 925.7M1262.5 915.1L1262.5 916.8M1258.3 882.3L1257.9 879.9M1273.7 901.5L1277.2 900.4M1256.4 905.6L1253.0 906.5M1252.6 877.4L1251.9 874.9M1249.2 892.6L1246.3 890.5M1247.7 918.9L1245.0 922.5M1293.0 912.9L1295.5 913.1M1268.8 892.0L1268.9 895.0M1269.3 907.6L1269.6 911.4M1256.4 919.8L1252.6 921.5M1278.4 890.6L1279.0 886.4M1271.1 929.2L1272.1 931.8M1283.1 923.2L1284.7 926.5M1277.7 923.4L1280.0 926.2M1252.5 926.9L1249.2 930.2M1262.5 930.1L1261.2 932.7M1253.0 880.1L1251.8 877.2M1273.5 930.3L1274.0 933.1" fill="none" stroke="rgb(235,235,235)" stroke-width="0.50" stroke-opacity="0.8"/>
<path d="M1249.0 895.3L1247.0 894.5M1291.4 879.8L1293.2 878.2M1278.0 911.4L1281.0 913.2M1276.1 926.2L1276.9 927.9M1278.2 910.4L1283.2 910.1M1292.0 899.9L1293.6 899.6M1295.3 901.4L1297.4 900.2M1241.1 901.3L1238.1 900.8M1289.4 909.3L1292.2 908.2M1291.4 899.3L1294.5 896.0M1254.4 917.1L1253.3 919.3M1255.4 895.1L1252.4 894.3M1280.4 892.1L1281.4 889.9M1267.2 918.9L1267.2 922.4M1281.8 888.2L1283.6 885.2M1272.5 901.5L1272.2 904.9M1273.5 891.8L1273.6 893.7M1279.1 913.0L1281.7 914.6M1266.4 932.2L1264.3 936.3M1261.8 912.2L1260.0 914.6M1294.3 898.1L1296.2 898.2M1276.9 926.2L1279.4 928.5" fill="none" stroke="rgb(235,235,235)" stroke-width="0.65" stroke-opacity="0.8"/>
<path d="M1259.7 930.2L1259.0 933.8M1252.1 887.9L1250.8 885.1M1261.4 910.3L1257.7 910.4M1269.0 932.6L1269.1 935.1M1278.7 887.5L1279.4 884.9M1249.0 881.6L1247.4 878.5M1257.6 916.2L1253.0 918.1M1267.1 893.4L1267.4 896.3M1253.7 903.3L1251.9 902.5M1283.8 879.5L1285.8 878.0M1274.3 906.7L1277.7 906.9M1270.9 893.5L1270.7 895.5M1251.1 918.6L1249.5 918.8M1264.5 904.5L1263.9 908.3M1285.9 893.2L1288.8 890.2M1280.7 913.8L1283.0 917.0M1243.8 909.3L1239.7 910.2M1255.2 923.6L1254.2 925.6M1266.8 892.8L1267.1 894.5M1269.5 907.4L1269.5 909.3M1260.1 914.2L1258.4 918.9M1250.0 922.2L1247.4 923.7M1289.4 916.9L1293.7 916.8M1270.3 921.9L1271.2 924.0M1270.7 879.5L1270.5 883.0M1277.0 883.7L1277.8 881.9M1261.5 889.4L1260.7 887.3M1260.5 927.7L1259.7 932.1M1285.0 892.6L1287.3 891.3M1267.4 877.9L1267.2 882.0M1249.6 892.3L1247.5 888.4M1259.4 924.8L1258.0 929.3M1273.7 893.8L1273.3 898.1M1251.0 898.8L1247.7 896.8M1281.8 911.2L1286.2 912.6" fill="none" stroke="rgb(250,250,250)" stroke-width="0.40" stroke-opacity="0.8"/>
<path d="M1282.3 889.3L1285.0 886.4M1257.5 892.3L1254.8 891.0M1267.7 900.7L1267.9 903.1M1282.4 922.0L1286.7 924.4M1288.7 899.6L1292.5 898.5M1248.9 921.2L1245.5 923.8M1285.0 901.6L1288.4 900.7M1249.6 908.1L1245.1 906.9M1290.6 908.6L1293.8 908.4M1258.2 920.2L1255.4 922.1M1264.3 930.2L1263.5 932.3M1283.2 890.7L1285.4 889.3M1291.0 901.5L1295.2 902.6M1270.2 901.4L1270.1 903.2M1255.4 920.8L1253.3 924.3M1267.5 878.9L1267.3 881.0M1263.0 913.4L1263.2 917.7M1245.9 914.1L1242.6 914.8M1262.5 914.4L1261.8 919.0M1245.1 893.7L1242.7 892.7M1252.0 923.3L1249.7 927.7" fill="none" stroke="rgb(250,250,250)" stroke-width="0.50" stroke-opacity="0.8"/>
<path d="M1245.0 915.4L1241.4 916.4M1273.0 925.9L1274.7 929.6M1255.7 886.0L1254.1 881.4M1274.9 882.2L1275.1 878.8M1268.6 926.0L1268.9 928.2M1278.8 912.5L1281.7 913.3M1268.9 880.8L1268.4 884.0M1257.5 888.7L1253.6 886.0M1288.6 882.0L1291.3 879.8M1240.5 905.9L1235.7 905.4M1275.1 889.7L1278.2 887.0M1255.8 908.6L1253.7 909.8M1244.9 914.5L1243.5 915.5M1273.2 887.0L1273.1 889.6M1264.2 929.5L1262.8 933.4M1292.8 899.9L1296.2 899.7M1280.0 922.0L1283.3 924.9M1254.1 923.5L1253.1 925.7M1271.5 895.6L1271.0 899.4M1277.5 914.1L1279.3 915.3M1244.8 897.9L1242.3 895.0M1254.6 915.6L1252.3 915.8M1251.8 874.6L1248.7 871.0M1277.1 913.7L1281.0 914.3M1277.9 911.4L1279.3 912.4M1260.4 900.6L1257.6 899.8" fill="none" stroke="rgb(250,250,250)" stroke-width="0.65" stroke-opacity="0.8"/>
<path d="M1252.3 905.3L1249.3 906.1M1254.7 881.0L1254.5 877.2M1287.8 915.6L1290.7 916.8M1254.8 898.8L1250.0 898.2M1281.0 887.7L1283.3 884.1M1257.9 923.6L1256.9 926.9M1264.0 913.5L1263.6 917.6M1252.9 890.9L1250.6 887.6M1285.0 891.7L1287.2 887.5M1284.6 882.9L1286.2 880.2M1244.2 907.5L1241.3 906.2M1270.7 895.4L1271.2 899.6M1278.1 893.3L1280.2 891.0M1280.0 898.3L1283.1 894.5M1249.8 913.6L1246.6 916.3M1252.3 878.5L1252.0 875.0M1280.2 898.3L1283.7 895.7M1263.0 882.4L1263.4 887.0M1249.3 923.7L1246.3 924.4M1274.7 892.6L1278.4 889.7M1282.2 903.9L1283.8 902.8M1280.7 900.0L1283.2 897.7M1278.0 907.2L1282.5 908.7" fill="none" stroke="rgb(255,255,255)" stroke-width="0.40" stroke-opacity="0.8"/>
<path d="M1268.4 891.5L1268.3 893.4M1288.2 881.1L1289.1 879.1M1263.9 877.7L1264.1 881.0M1248.5 898.1L1243.7 897.2M1250.5 886.1L1249.9 884.6M1274.6 893.8L1278.2 890.6M1255.9 915.6L1253.9 917.5M1287.9 888.2L1290.7 887.0M1271.1 904.0L1271.5 907.0M1258.0 884.4L1254.5 881.1M1282.0 888.3L1283.6 887.5M1280.0 902.9L1284.8 902.9M1249.6 911.7L1247.0 913.0M1276.8 880.9L1279.1 878.1M1279.3 922.7L1281.8 924.3M1247.8 890.9L1246.5 889.8M1242.8 897.2L1239.3 897.5" fill="none" stroke="rgb(255,255,255)" stroke-width="0.50" stroke-opacity="0.8"/>
<path d="M1271.6 877.7L1271.0 881.6M1247.6 909.3L1245.9 910.2M1283.6 885.3L1283.9 883.5M1246.8 897.1L1243.6 897.0M1265.9 903.0L1265.6 905.5M1250.2 879.6L1249.9 877.6M1289.7 918.6L1294.5 919.5M1275.1 913.8L1275.8 915.7M1263.7 877.5L1263.6 880.3M1290.3 906.3L1294.7 905.1M1267.9 897.8L1267.5 900.6M1249.6 919.0L1245.5 921.3M1272.5 894.9L1273.0 899.6M1279.4 888.9L1282.4 886.1M1253.1 920.5L1251.5 921.5M1289.7 885.9L1290.6 884.3M1287.8 920.1L1289.4 922.2M1286.7 891.9L1289.2 888.0M1272.0 922.4L1274.3 926.8M1272.3 908.9L1272.3 913.0M1270.5 911.3L1270.1 914.4M1290.5 896.5L1294.7 894.6" fill="none" stroke="rgb(255,255,255)" stroke-width="0.65" stroke-opacity="0.8"/>
<polygon points="1251.4,898.3 1256.1,897.4 1260.3,900.4 1259.0,902.1 1254.4,901.2" fill="#111"/>
<ellipse cx="1256.7" cy="899.7" rx="1.3" ry="0.9" fill="#ddd"/>
<polygon points="1271.2,899.5 1275.4,898.3 1281.3,899.1 1277.1,902.5 1272.9,902.1" fill="#111"/>
<ellipse cx="1275.0" cy="900.5" rx="1.5" ry="1" fill="#ddd"/>
<polyline points="1246.0,898.3 1251.9,897.0 1257.8,897.8" fill="none" stroke="#222" stroke-width="0.8"/>
<polyline points="1270.4,898.3 1277.1,897.0 1285.5,897.4" fill="none" stroke="#222" stroke-width="0.8"/>
<polyline points="1249.8,913.8 1254.4,912.6 1258.6,913.4" fill="none" stroke="#2a2a2a" stroke-width="0.9"/>
<polyline points="1272.9,913.8 1277.1,911.3 1281.3,912.1" fill="none" stroke="#2a2a2a" stroke-width="0.9"/>
<polyline points="1261.1,907.1 1262.0,913.8 1260.3,918.9" fill="none" stroke="#fff" stroke-width="1"/>
<polyline points="1272.1,917.2 1270.8,922.2 1269.5,925.6" fill="none" stroke="#fff" stroke-width="1"/>
<polygon points="1263.2,921.8 1269.5,921.8 1268.3,926.4 1266.6,928.5 1264.9,926.0" fill="#0c0c0c"/>
<line x1="1268.3" y1="928.5" x2="1268.5" y2="933.2" stroke="#777" stroke-width="1.4"/>
</g>
<rect x="1236.5" y="866.5" width="64.2" height="68" fill="none" stroke="#a2a2a2" stroke-width="3"/>
</svg>
</body>
</html>
